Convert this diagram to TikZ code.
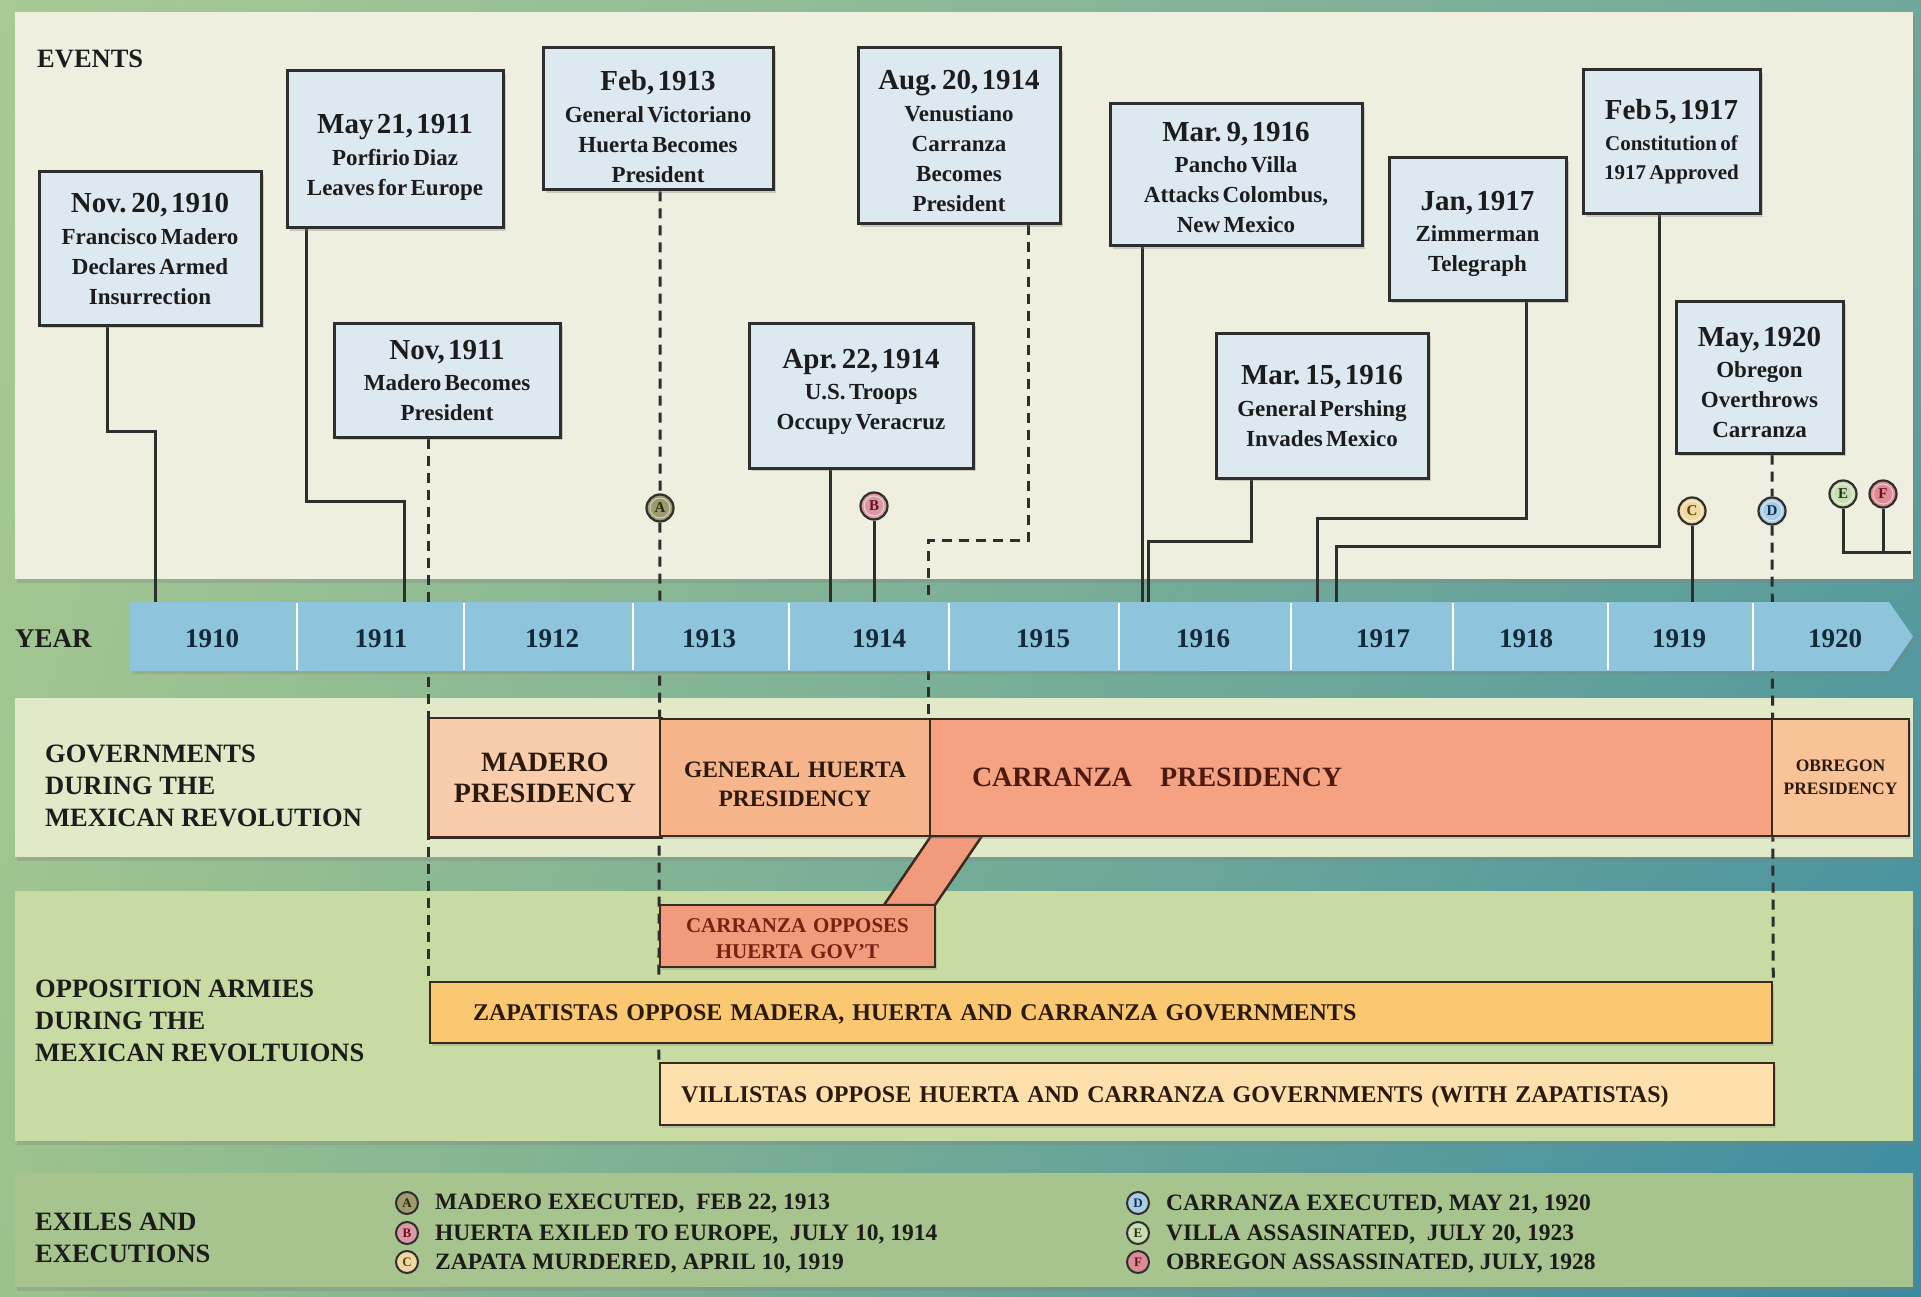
\documentclass[tikz,border=0pt]{standalone}
\usepackage{fontspec}
\setmainfont{Liberation Serif}
\usetikzlibrary{shadows,shadings,calc}

\definecolor{bgUL}{HTML}{A8CA94}
\definecolor{bgUR}{HTML}{6FA89A}
\definecolor{bgLL}{HTML}{9CC28C}
\definecolor{bgLR}{HTML}{3A8AA2}
\definecolor{evpanel}{HTML}{EFEFE0}
\definecolor{govpanel}{HTML}{E0E9C8}
\definecolor{opppanel}{HTML}{C8DBA3}
\definecolor{expanel}{HTML}{A7C48F}
\definecolor{arrowc}{HTML}{8EC5DC}
\definecolor{evfill}{HTML}{DCE9F0}
\definecolor{lineC}{HTML}{2E2E2E}
\definecolor{txt}{HTML}{1C1C1C}
\definecolor{yeartxt}{HTML}{14283A}
\definecolor{madc}{HTML}{F9CDAB}
\definecolor{huec}{HTML}{F6B58B}
\definecolor{carc}{HTML}{F4A281}
\definecolor{oppc}{HTML}{F29A7C}
\definecolor{obrc}{HTML}{F8C396}
\definecolor{zapc}{HTML}{FBC872}
\definecolor{vilc}{HTML}{FDE0AB}
\definecolor{barline}{HTML}{3A2A20}
\definecolor{bartxt}{HTML}{2B1A10}
\definecolor{redtxt}{HTML}{4D1A12}
\definecolor{opptxt}{HTML}{7A2010}
\definecolor{mkA}{HTML}{9C9A6E}
\definecolor{mkB}{HTML}{D99AA3}
\definecolor{mkC}{HTML}{F0D8A0}
\definecolor{mkD}{HTML}{A9CDE6}
\definecolor{mkE}{HTML}{C9DDB3}
\definecolor{mkF}{HTML}{DC8C95}
\definecolor{mkAt}{HTML}{2A2A10}
\definecolor{mkBt}{HTML}{6A1020}
\definecolor{mkCt}{HTML}{5A4010}
\definecolor{mkDt}{HTML}{103050}
\definecolor{mkEt}{HTML}{203010}
\definecolor{mkFt}{HTML}{6A1020}

\newcommand\fDate{\fontsize{29}{33}\selectfont\bfseries}
\newcommand\fSub{\fontsize{23}{30}\selectfont\bfseries}
\newcommand\fYear{\fontsize{27}{30}\selectfont\bfseries}
\newcommand\fLbl{\fontsize{26.5}{32}\selectfont\bfseries}
\newcommand\fLeg{\fontsize{23.5}{28}\selectfont\bfseries}
\newcommand\fMk{\fontsize{15}{15}\selectfont\bfseries}
\newcommand\fLmk{\fontsize{13}{13}\selectfont\bfseries}
\newcommand\fBig{\fontsize{28}{31}\selectfont\bfseries}
\newcommand\fHue{\fontsize{23.5}{29}\selectfont\bfseries}
\newcommand\fObr{\fontsize{17.5}{23}\selectfont\bfseries}
\newcommand\fOpp{\fontsize{21}{26}\selectfont\bfseries}
\newcommand\fZap{\fontsize{24}{28}\selectfont\bfseries}
% #1 date, #2 lines, #3 trailing space (positive lifts the text, negative lowers it)
\newcommand\evc[3]{{\fDate #1\par}\vspace{1.5pt}{\fSub #2\par}\vspace*{#3pt}}
\newcommand\lowr[1]{\par\vspace*{-#1pt}}

\pgfdeclarelayer{bgl}
\pgfdeclarelayer{lnl}
\pgfdeclarelayer{midl}
\pgfsetlayers{bgl,lnl,midl,main}

\begin{document}
\begin{tikzpicture}[x=1pt,y=-1pt,
  panel/.style={drop shadow={opacity=0.3,shadow xshift=2pt,shadow yshift=-4pt}},
  evbox/.style={draw=lineC,line width=3pt,fill=evfill,align=center,inner sep=0pt,text=txt,
     drop shadow={opacity=0.35,shadow xshift=3pt,shadow yshift=-3pt}},
  conn/.style={draw=lineC,line width=3pt},
  dconn/.style={draw=lineC,line width=3pt,dash pattern=on 10pt off 7pt},
  bar/.style={draw=barline,line width=2.5pt,inner sep=0pt,text=bartxt,
     drop shadow={opacity=0.3,shadow xshift=2pt,shadow yshift=-3pt}},
  mk/.style={circle,draw=lineC,line width=2.2pt,minimum size=27pt,inner sep=0pt,font=\fMk},
  lmk/.style={circle,draw=lineC,line width=2pt,minimum size=22pt,inner sep=0pt,font=\fLmk},
  yr/.style={text=yeartxt,font=\fYear,inner sep=0pt},
  lbl/.style={anchor=west,align=left,text=txt,font=\fLbl,inner sep=0pt},
  leg/.style={anchor=west,text=txt,font=\fLeg,inner sep=0pt}
]
\useasboundingbox (0,0) rectangle (1921,1297);

% ---------- background and panels ----------
\begin{pgfonlayer}{bgl}
\shade[upper left=bgUL, upper right=bgUR, lower left=bgLL, lower right=bgLR] (0,0) rectangle (1921,1297);
\fill[evpanel, panel] (15,12) rectangle (1913,579);
\fill[govpanel, panel] (15,698) rectangle (1913,857);
\fill[opppanel, panel] (15,891) rectangle (1913,1141);
\fill[expanel, panel] (15,1173) rectangle (1913,1287);
\node[anchor=west,font=\fLbl,text=txt,inner sep=0pt] (lEv) at (37,59) {EVENTS};
\node[lbl] (lGov) at (45,786) {GOVERNMENTS\\DURING THE\\MEXICAN REVOLUTION};
\node[lbl] (lOpp) at (35,1021) {OPPOSITION ARMIES\\DURING THE\\MEXICAN REVOLTUIONS};
\node[lbl] (lExi) at (35,1238) {EXILES AND\\EXECUTIONS};
\end{pgfonlayer}

% ---------- event boxes ----------
\node[evbox, text width=222pt, minimum height=153pt] (e1) at (150,248.5)
  {\evc{Nov. 20, 1910}{Francisco Madero\\Declares Armed\\Insurrection}{-1}};
\node[evbox, text width=216pt, minimum height=157pt] (e2) at (395,149.5)
  {\evc{May 21, 1911}{Porfirio Diaz\\Leaves for Europe}{-16}};
\node[evbox, text width=226pt, minimum height=114pt] (e3) at (447,380)
  {\evc{Nov, 1911}{Madero Becomes\\President}{-1}};
\node[evbox, text width=230pt, minimum height=142pt] (e4) at (658,119)
  {\evc{Feb, 1913}{General Victoriano\\Huerta Becomes\\President}{-15}};
\node[evbox, text width=224pt, minimum height=145pt] (e5) at (861,395.5)
  {\evc{Apr. 22, 1914}{U.S. Troops\\Occupy Veracruz}{7}};
\node[evbox, text width=202pt, minimum height=176pt] (e6) at (959,136)
  {\evc{Aug. 20, 1914}{Venustiano\\Carranza\\Becomes\\President}{-10}};
\node[evbox, text width=252pt, minimum height=142pt] (e7) at (1236,175)
  {\evc{Mar. 9, 1916}{Pancho Villa\\Attacks Colombus,\\New Mexico}{-5}};
\node[evbox, text width=212pt, minimum height=145pt] (e8) at (1322,405.5)
  {\evc{Mar. 15, 1916}{General Pershing\\Invades Mexico}{-1}};
\node[evbox, text width=177pt, minimum height=142pt] (e9) at (1477.5,229)
  {\evc{Jan, 1917}{Zimmerman\\Telegraph}{-10}};
\node[evbox, text width=177pt, minimum height=144pt] (e10) at (1671.5,142)
  {\evc{Feb 5, 1917}{\fontsize{21}{29}\selectfont Constitution of\\1917 Approved}{1}};
\node[evbox, text width=167pt, minimum height=152pt] (e11) at (1759.5,377)
  {\evc{May, 1920}{Obregon\\Overthrows\\Carranza}{-11}};

% ---------- timeline markers ----------
\node[mk, fill=mkA, text=mkAt] (mA) at (660,508) {A};
\node[mk, fill=mkB, text=mkBt] (mB) at (874,506) {B};
\node[mk, fill=mkC, text=mkCt] (mC) at (1692,511) {C};
\node[mk, fill=mkD, text=mkDt] (mD) at (1772,511) {D};
\node[mk, fill=mkE, text=mkEt] (mE) at (1843,494) {E};
\node[mk, fill=mkF, text=mkFt] (mF) at (1883,494) {F};
\foreach \m in {mA,mB,mC,mD,mE,mF}
  \draw[white, opacity=0.55, line width=1pt] (\m) circle[radius=10pt];

% ---------- year arrow ----------
\begin{pgfonlayer}{midl}
\fill[arrowc, drop shadow={opacity=0.3,shadow xshift=2pt,shadow yshift=-3pt}]
  (130,602) -- (1889,602) -- (1913,636.5) -- (1889,671) -- (130,671) -- cycle;
\foreach \x in {297,464,633,789,949,1119,1291,1453,1608,1753}
  \draw[white, line width=2.5pt] (\x,603) -- (\x,670);
\node[anchor=west,font=\fYear,text=txt,inner sep=0pt] (lYear) at (15,639) {YEAR};
\node[yr] (y1910) at (212,639) {1910};
\node[yr] (y1911) at (381,639) {1911};
\node[yr] (y1912) at (552,639) {1912};
\node[yr] (y1913) at (709,639) {1913};
\node[yr] (y1914) at (879,639) {1914};
\node[yr] (y1915) at (1043,639) {1915};
\node[yr] (y1916) at (1203,639) {1916};
\node[yr] (y1917) at (1383,639) {1917};
\node[yr] (y1918) at (1526,639) {1918};
\node[yr] (y1919) at (1679,639) {1919};
\node[yr] (y1920) at (1835,639) {1920};

% ---------- government and opposition bars ----------
\filldraw[fill=oppc, draw=barline, line width=2.5pt] (884,905) -- (935,905) -- (982,836) -- (931,836) -- cycle;
\node[bar, draw=none, fill=madc, minimum width=230pt, minimum height=117pt, align=center, font=\fBig] (mad) at (545,777.5) {MADERO\\PRESIDENCY};
\draw[barline, line width=2.5pt] (mad.north west) -- (mad.north east) -- (mad.south east) -- (mad.south west);
\draw[dconn] (mad.north west) -- (mad.south west);
\node[bar, fill=huec, text width=270pt, minimum height=117pt, align=center, font=\fHue] (hue) at (795,777.5) {GENERAL HUERTA\\PRESIDENCY\lowr{13}};
\node[bar, fill=carc, minimum height=117pt, text width=758pt, inner xsep=42pt, align=left, font=\fBig, text=redtxt] (carr) at (1351,777.5) {CARRANZA\hspace{1em}PRESIDENCY\lowr{4}};
\node[bar, fill=obrc, minimum width=137pt, minimum height=117pt, align=center, font=\fObr] (obr) at (1840.5,777.5) {OBREGON\\PRESIDENCY};
\node[bar, fill=oppc, text width=275pt, minimum height=62pt, align=center, font=\fOpp, text=opptxt] (opp) at (797.5,936) {CARRANZA OPPOSES\\HUERTA GOV'T\lowr{5}};
\node[bar, fill=zapc, minimum height=61pt, text width=1256pt, inner xsep=43pt, align=left, font=\fZap] (zap) at (1101,1012.5) {ZAPATISTAS OPPOSE MADERA, HUERTA AND CARRANZA GOVERNMENTS\lowr{11}};
\node[bar, fill=vilc, minimum height=62pt, text width=1072pt, inner xsep=21pt, align=left, font=\fZap] (vil) at (1217,1094) {VILLISTAS OPPOSE HUERTA AND CARRANZA GOVERNMENTS (WITH ZAPATISTAS)\lowr{9}};
\end{pgfonlayer}

% ---------- connectors ----------
\coordinate (tE1) at (155,604);
\coordinate (tE2) at (404,604);
\coordinate (tE5) at (830,604);
\coordinate (tB) at (874,604);
\coordinate (tE7) at (1142,604);
\coordinate (tE8) at (1148,604);
\coordinate (tE9) at (1317,604);
\coordinate (tE10) at (1336,604);
\coordinate (tC) at (1692,604);
\coordinate (efR) at (1911,552);
\begin{pgfonlayer}{lnl}
\draw[conn] ([xshift=-43pt]e1.south) -- ++(0,105) -| (tE1);
\draw[conn] ([xshift=-89pt]e2.south) -- ++(0,272) -| (tE2);
\draw[conn] (tE5 |- e5.south) -- (tE5);
\draw[conn] (mB) -- (tB);
\draw[conn] (tE7 |- e7.south) -- (tE7);
\draw[conn] ([xshift=-71pt]e8.south) -- ++(0,62) -| (tE8);
\draw[conn] ([xshift=48.5pt]e9.south) -- ++(0,217) -| (tE9);
\draw[conn] ([xshift=-12.5pt]e10.south) -- ++(0,331) -| (tE10);
\draw[conn] (mC) -- (tC);
\draw[conn] (mE) |- (efR);
\draw[conn] (mF) -- (mF |- efR);
\draw[dconn] (e3.south -| zap.north west) -- (zap.north west);
\draw[dconn] (e4.south -| mA) -- (mA) -- (vil.north west);
\draw[dconn] ([xshift=69pt]e6.south) -- ++(0,315) -| (carr.north west);
\draw[dconn] (e11.south -| mD) -- (mD) -- (zap.north east);
\end{pgfonlayer}

% ---------- legend ----------
\node[lmk, fill=mkA, text=mkAt] (gA) at (407,1203) {A};
\node[lmk, fill=mkB, text=mkBt] (gB) at (407,1233) {B};
\node[lmk, fill=mkC, text=mkCt] (gC) at (407,1262) {C};
\node[lmk, fill=mkD, text=mkDt] (gD) at (1138,1203) {D};
\node[lmk, fill=mkE, text=mkEt] (gE) at (1138,1233) {E};
\node[lmk, fill=mkF, text=mkFt] (gF) at (1138,1262) {F};
\node[leg] (tA) at (435,1204) {MADERO EXECUTED,\ \ FEB 22, 1913};
\node[leg] (tB2) at (435,1234) {HUERTA EXILED TO EUROPE,\ \ JULY 10, 1914};
\node[leg] (tC2) at (435,1263) {ZAPATA MURDERED, APRIL 10, 1919};
\node[leg] (tD) at (1166,1204) {CARRANZA EXECUTED, MAY 21, 1920};
\node[leg] (tE) at (1166,1234) {VILLA ASSASINATED,\ \ JULY 20, 1923};
\node[leg] (tF) at (1166,1263) {OBREGON ASSASSINATED, JULY, 1928};
\end{tikzpicture}
\end{document}
